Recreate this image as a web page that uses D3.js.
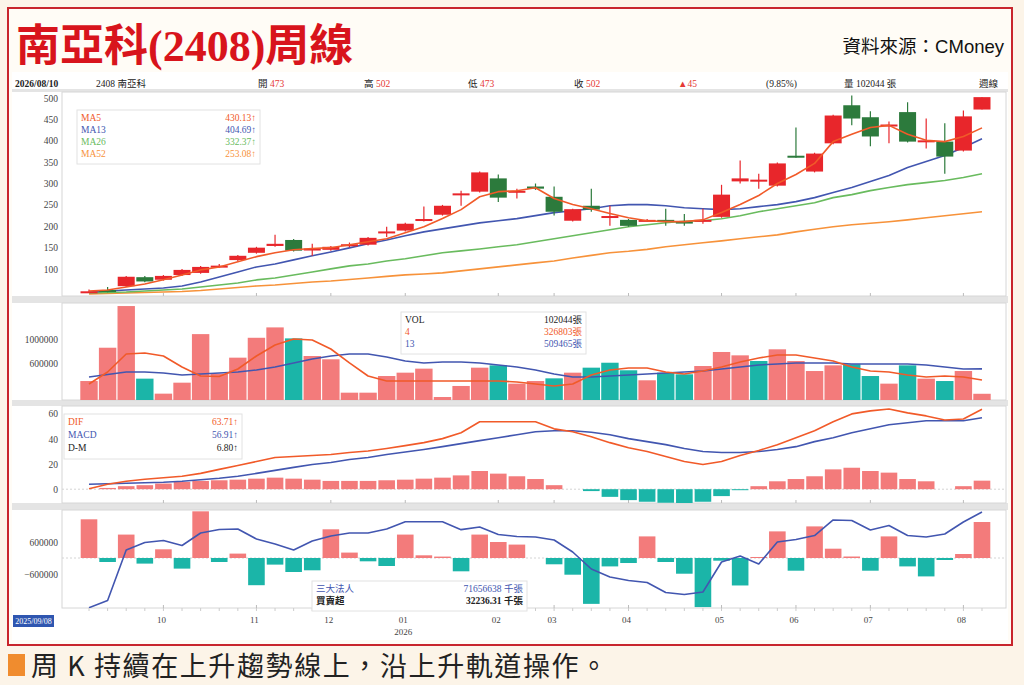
<!DOCTYPE html>
<html>
<head>
<meta charset="utf-8">
<script src="https://cdn.jsdelivr.net/npm/d3@7"></script>
<style>
  body { margin: 0; background: #fcf4e8; }
  svg { display: block; }
</style>
</head>
<body>
<svg id="chart" width="1024" height="685"></svg>
<script>
// 南亞科(2408) 周線 — K 線 / 成交量 / MACD / 三大法人

var weeks = [
  '2025/09/08', '2025/09/15', '2025/09/22', '2025/09/29', '2025/10/06', '2025/10/13', '2025/10/20', '2025/10/27',
  '2025/11/03', '2025/11/10', '2025/11/17', '2025/11/24', '2025/12/01', '2025/12/08', '2025/12/15', '2025/12/22',
  '2025/12/29', '2026/01/05', '2026/01/12', '2026/01/19', '2026/01/26', '2026/02/02', '2026/02/09', '2026/02/16',
  '2026/02/23', '2026/03/02', '2026/03/09', '2026/03/16', '2026/03/23', '2026/03/30', '2026/04/06', '2026/04/13',
  '2026/04/20', '2026/04/27', '2026/05/04', '2026/05/11', '2026/05/18', '2026/05/25', '2026/06/01', '2026/06/08',
  '2026/06/15', '2026/06/22', '2026/06/29', '2026/07/06', '2026/07/13', '2026/07/20', '2026/07/27', '2026/08/03',
  '2026/08/10'
];

var open  = [46, 51, 60, 81, 75, 86, 91, 106, 121, 138, 154, 168, 147, 145, 154, 157, 187, 190, 213, 227, 275, 281, 312, 281, 293,
             269, 213, 248, 222, 215, 213, 215, 211, 213, 222, 305, 305, 295, 365, 328, 394, 483, 455, 434, 467, 398, 398, 377, 473];
var high  = [52, 58, 84, 84, 86, 100, 107, 112, 133, 152, 180, 170, 159, 154, 162, 175, 199, 208, 246, 250, 283, 328, 321, 288, 300,
             293, 241, 288, 248, 217, 217, 241, 229, 241, 297, 354, 323, 349, 431, 372, 461, 506, 469, 445, 490, 452, 441, 471, 502];
var low   = [45, 46, 58, 69, 73, 84, 89, 103, 119, 136, 152, 141, 131, 143, 151, 155, 175, 188, 211, 225, 248, 279, 257, 265, 285,
             225, 211, 234, 201, 199, 211, 201, 201, 206, 220, 300, 288, 293, 360, 326, 392, 436, 387, 394, 396, 382, 323, 375, 473];
var close = [48, 49, 82, 71, 84, 98, 105, 108, 131, 150, 159, 143, 148, 152, 158, 173, 188, 206, 217, 248, 277, 326, 267, 283, 288,
             234, 240, 239, 224, 201, 215, 211, 210, 215, 274, 312, 309, 347, 363, 370, 459, 452, 410, 438, 398, 401, 363, 457, 502];

var ma5  = [48.7, 51, 58, 65, 75, 86, 98, 105, 117, 129, 138, 145, 148, 150, 157, 164, 171, 185, 199, 218, 239, 269, 281, 283, 290,
            265, 251, 241, 230, 220, 213, 211, 211, 215, 232, 251, 272, 300, 321, 347, 398, 415, 431, 436, 415, 401, 398, 410, 430.1];
var ma13 = [46.4, 48.7, 51, 53.4, 55.7, 60.5, 69.9, 81.6, 93.3, 105, 112, 121.5, 131, 140, 149.6, 159, 168, 178, 187, 194, 201, 208, 213, 218, 225,
            232, 236.5, 241, 248, 250.6, 250.6, 248, 243.5, 241, 239, 241, 246, 250.6, 257.6, 267, 279, 290.5, 304.6, 318.6, 337.4, 351.5, 365.6, 384.4, 404.7];
var ma26 = [44, 45.2, 46.4, 48.7, 51, 53.4, 58, 62.8, 67.5, 74.6, 79, 86.3, 93.3, 100.4, 107.4, 112, 119, 124, 131, 138, 142.6, 147, 152, 156.7, 163.7,
            170.8, 177.8, 184.9, 191.9, 199, 203.6, 208.3, 211.9, 213, 217.7, 224.8, 234, 241, 248, 255, 267, 274, 283.4, 290.5, 297.5, 302, 307, 314, 323];
var ma52 = [41.7, 42.9, 44, 45.2, 46.4, 47.6, 49.9, 53.4, 57, 60.5, 62.8, 66.3, 69.9, 72.2, 75.7, 79.2, 82.8, 86.3, 88.6, 91, 95.7, 100.4, 105, 109.8, 114.5,
            119, 126, 132, 138, 141.5, 146, 152, 156.7, 161.4, 166, 170.8, 175.5, 180, 187, 193, 199, 203.6, 207, 210.7, 215, 220, 224.8, 229.5, 234];

var volume = [311000, 857000, 1540000, 350000, 104000, 284000, 1080000, 431000, 694000, 1020000, 1190000, 1010000, 721000, 667000, 120000, 120000,
              393000, 448000, 514000, 49000, 230000, 530000, 568000, 268000, 311000, 355000, 448000, 530000, 611000, 487000, 323000, 448000,
              421000, 557000, 787000, 732000, 639000, 831000, 639000, 475000, 568000, 585000, 393000, 268000, 568000, 350000, 311000, 475000, 102044];
var vol4  = [262000, 459000, 754000, 770000, 721000, 541000, 393000, 384000, 508000, 721000, 902000, 1000000, 984000, 836000, 607000, 393000,
             311000, 311000, 311000, 311000, 311000, 311000, 311000, 295000, 262000, 230000, 262000, 410000, 492000, 525000, 525000, 459000,
             426000, 475000, 541000, 623000, 689000, 738000, 738000, 689000, 639000, 541000, 475000, 459000, 410000, 377000, 393000, 377000, 326803];
var vol13 = [377000, 418000, 459000, 459000, 443000, 410000, 426000, 443000, 459000, 492000, 541000, 607000, 672000, 721000, 754000, 754000,
             705000, 639000, 607000, 623000, 623000, 607000, 574000, 541000, 492000, 426000, 377000, 377000, 393000, 410000, 426000, 443000,
             459000, 475000, 508000, 541000, 574000, 590000, 607000, 607000, 607000, 590000, 590000, 590000, 590000, 574000, 541000, 508000, 509465];

var dif  = [0.3, 3.9, 6.3, 7.9, 9.1, 10.3, 12.6, 15.8, 18.9, 22.1, 25.3, 26, 26.8, 27.6, 29.2, 30.4, 32.4, 34.7, 37.1, 40.3, 45, 53.7, 53.7, 53.7, 53.7,
            48.1, 45.8, 41.8, 37.1, 33.1, 30, 26, 22.1, 19.7, 22.1, 26.8, 30.8, 35.5, 41, 46.6, 53.7, 60, 62.4, 63.9, 60.8, 58.4, 55.2, 56, 63.7];
var macd = [3.9, 4.3, 4.7, 5.1, 5.5, 6.3, 7.5, 8.7, 10.3, 12.6, 15, 17.4, 19.7, 21.3, 23.7, 25.3, 27.6, 29.6, 31.6, 33.9, 36.3, 38.7, 41, 43.4, 45.8,
            46.6, 46.6, 45.4, 43.4, 40.3, 37.9, 35.5, 32.4, 30, 29.2, 29.2, 30, 31.6, 33.9, 37.9, 41, 45, 48.1, 51.3, 52.9, 54.5, 54.5, 54.5, 56.9];
var osc  = [0, 1, 2.4, 3.2, 4.5, 5.8, 6.6, 7.1, 7.6, 8.4, 9.2, 8.4, 7.6, 6.6, 6.6, 6.6, 7.1, 7.6, 8.4, 9.2, 11, 14.5, 12.4, 10.3, 8.1,
            3.2, 0, -1.5, -6.1, -8.7, -10, -10.8, -11.3, -10, -5.5, -0.5, 2.4, 6.3, 8.1, 10.3, 15.8, 17.1, 14.5, 13.2, 8.1, 6.3, 0, 2.4, 6.8];

var instNet = [1451000, -150000, 878000, -210000, 326000, -398000, 1750000, -150000, 165000, -1020000, -248000, -525000, -461000, 1076000, 203000, -124000,
               -300000, 878000, 101000, 53000, -499000, 878000, 600000, 503000, 0, -236000, -626000, -1720000, -315000, -188000, 810000, -150000,
               -589000, -1840000, -101000, -1030000, 38000, 998000, -476000, 1185000, 349000, 56000, -476000, 810000, -315000, -690000, -75000, 150000, 1350000];
var instTrend = [0.3, 7.8, 60.4, 68.2, 70.3, 65.1, 78.1, 81.8, 82.3, 71.9, 66.7, 60.4, 69.8, 75, 78.1, 78.1, 82.3, 89.9, 89.9, 89.9, 81.6, 84.4, 76.6, 74.5, 74,
                 70.8, 58.3, 40.6, 32.3, 28.6, 26.6, 16.1, 14.1, 16.7, 47.9, 54.2, 45.8, 68.8, 71.4, 75.5, 91.7, 91.1, 81.3, 85.9, 75.5, 74, 77.1, 89.6, 100];

var monthWeeks  = ['2025/10/06', '2025/11/10', '2025/12/08', '2026/01/05', '2026/02/09', '2026/03/02', '2026/03/30', '2026/05/04', '2026/06/01', '2026/06/29', '2026/08/03'];
var monthLabels = ['10', '11', '12', '01', '02', '03', '04', '05', '06', '07', '08'];

var priceTicks = [100, 150, 200, 250, 300, 350, 400, 450, 500];
var volTicks   = [600000, 1000000];
var macdTicks  = [0, 20, 40, 60];
var instTicks  = [-600000, 600000];

var maLegend   = [['MA5', '430.13↑'], ['MA13', '404.69↑'], ['MA26', '332.37↑'], ['MA52', '253.08↑']];
var volLegend  = [['VOL', '102044張'], ['4', '326803張'], ['13', '509465張']];
var macdLegend = [['DIF', '63.71↑'], ['MACD', '56.91↑'], ['D-M', '6.80↑']];
var instLegend = [['三大法人', '71656638 千張'], ['買賣超', '32236.31 千張']];

var RED = '#e8262b', GREEN = '#2c7a3c', PINK = '#f37b7b', TEAL = '#1bb5a8';
var C_MA5 = '#f15a29', C_MA13 = '#4256b0', C_MA26 = '#69bb5e', C_MA52 = '#f7923a';
var SERIF = '"Liberation Serif", "Noto Sans CJK TC", serif';
var CJK = '"Noto Sans CJK TC", sans-serif';

var svg = d3.select('#chart');

// 外框 / 標題
svg.append('rect').attr('x', 8).attr('y', 8).attr('width', 1004).attr('height', 637)
  .attr('fill', '#fffcf6').attr('stroke', '#c8252b').attr('stroke-width', 2);
svg.append('text').attr('x', 16).attr('y', 61)
  .attr('font-family', SERIF).attr('font-weight', 'bold').attr('font-size', 44).attr('fill', '#d8141c')
  .text('南亞科(2408)周線');
svg.append('text').attr('x', 1004).attr('y', 53).attr('text-anchor', 'end')
  .attr('font-family', '"Liberation Sans", ' + CJK).attr('font-size', 18.5).attr('fill', '#111')
  .text('資料來源：CMoney');
svg.append('rect').attr('x', 12).attr('y', 72).attr('width', 996).attr('height', 568).attr('fill', '#fff');

// 說明文字
svg.append('rect').attr('x', 8).attr('y', 654).attr('width', 17).attr('height', 22).attr('fill', '#f08c2e');
svg.append('text').attr('x', 31).attr('y', 676)
  .attr('font-family', CJK).attr('font-size', 27).attr('letter-spacing', 1.6).attr('fill', '#222')
  .text('周 K 持續在上升趨勢線上，沿上升軌道操作。');

// 資訊列 — 由最後一根 K 棒取值
var last = weeks.length - 1;
var chg = close[last] - close[last - 1];
var pct = chg / close[last - 1] * 100;
var info = svg.append('g').attr('font-family', SERIF).attr('font-size', 9.5);
function infoText(xp, label, value, anchor) {
  var t = info.append('text').attr('x', xp).attr('y', 87).attr('text-anchor', anchor || 'start');
  if (label) t.append('tspan').attr('fill', '#222').text(label);
  if (value) t.append('tspan').attr('fill', '#e53935').text(value);
  return t;
}
infoText(15, weeks[last], null).attr('font-weight', 'bold');
infoText(96, '2408 南亞科', null);
infoText(258, '開 ', String(open[last]));
infoText(364, '高 ', String(high[last]));
infoText(468, '低 ', String(low[last]));
infoText(574, '收 ', String(close[last]));
infoText(678, null, '▲' + chg);
infoText(766, '(' + pct.toFixed(2) + '%)', null);
infoText(844, '量 ' + volume[last] + ' 張', null);
infoText(998, '週線', null, 'end');

// 版面
var X0 = 62, X1 = 1006;
var panels = {
  price: [92, 296],
  vol: [303, 400],
  macd: [406, 503],
  inst: [510, 608]
};

svg.append('rect').attr('x', 12).attr('y', 89).attr('width', 996).attr('height', 3).attr('fill', '#e4e4e4');
[[296, 303], [400, 406], [503, 510]].forEach(function (b) {
  svg.append('rect').attr('x', 12).attr('y', b[0]).attr('width', 996).attr('height', b[1] - b[0]).attr('fill', '#e4e4e4');
});

var defs = svg.append('defs');
Object.keys(panels).forEach(function (k) {
  var p = panels[k];
  svg.append('rect').attr('x', X0).attr('y', p[0]).attr('width', X1 - X0).attr('height', p[1] - p[0])
    .attr('fill', '#fff').attr('stroke', '#d6d6d6');
  defs.append('clipPath').attr('id', 'clip-' + k).append('rect')
    .attr('x', X0).attr('y', p[0]).attr('width', X1 - X0).attr('height', p[1] - p[0]);
});

var x = d3.scaleBand().domain(weeks).range([79.7, 991.3]).padding(0);
var bw = x.bandwidth();
function cx(i) { return x(weeks[i]) + bw / 2; }
var idx = d3.range(weeks.length);

var yPrice = d3.scaleLinear().domain([37, 514]).range([296, 92]);
var yVol = d3.scaleLinear().domain([0, 1590000]).range([400, 303]);
var yMacd = d3.scaleLinear().domain([-11, 66.3]).range([503, 406]);
var yInst = d3.scaleLinear().domain([-1875000, 1800000]).range([608, 510]);
var yTrend = d3.scaleLinear().domain([0, 100]).range([608, 512]);

function yAxis(scale, ticks) {
  var g = svg.append('g').attr('transform', 'translate(58,0)')
    .call(d3.axisLeft(scale).tickValues(ticks).tickSize(0).tickPadding(0).tickFormat(d3.format('d')));
  g.select('.domain').remove();
  g.selectAll('text').attr('font-family', SERIF).attr('font-size', 9.5).attr('fill', '#444');
}
yAxis(yPrice, priceTicks);
yAxis(yVol, volTicks);
yAxis(yMacd, macdTicks);
yAxis(yInst, instTicks);

// 月份刻度
Object.keys(panels).forEach(function (k) {
  var p = panels[k];
  svg.append('g').selectAll('line').data(monthWeeks).join('line')
    .attr('x1', function (d) { return x(d) + bw / 2; }).attr('x2', function (d) { return x(d) + bw / 2; })
    .attr('y1', p[1] - 3).attr('y2', p[1]).attr('stroke', '#bbb');
});
svg.append('g').selectAll('line').data(idx).join('line')
  .attr('x1', function (i) { return cx(i); }).attr('x2', function (i) { return cx(i); })
  .attr('y1', 608).attr('y2', 611).attr('stroke', '#ccc');
svg.append('g').selectAll('text').data(monthWeeks).join('text')
  .attr('x', function (d) { return x(d) + bw / 2 - 2; }).attr('y', 623).attr('text-anchor', 'middle')
  .attr('font-family', SERIF).attr('font-size', 9).attr('fill', '#444')
  .text(function (d, i) { return monthLabels[i]; });
svg.append('text').attr('x', x('2026/01/05') + bw / 2 - 2).attr('y', 635).attr('text-anchor', 'middle')
  .attr('font-family', SERIF).attr('font-size', 9).attr('fill', '#444').text('2026');
svg.append('rect').attr('x', 13).attr('y', 615).attr('width', 41).attr('height', 12).attr('fill', '#2f56b0');
svg.append('text').attr('x', 33.5).attr('y', 624).attr('text-anchor', 'middle')
  .attr('font-family', SERIF).attr('font-size', 8).attr('fill', '#fff').text(weeks[0]);

// 零軸
[yMacd(0), yInst(0)].forEach(function (v) {
  svg.append('line').attr('x1', X0).attr('x2', X1).attr('y1', v).attr('y2', v)
    .attr('stroke', '#d4d4d4').attr('stroke-dasharray', '2,2');
});

function linePath(scale, values) {
  return d3.line().x(function (d, i) { return cx(i); }).y(function (d) { return scale(d); })(values);
}
function drawLine(layer, scale, values, color) {
  layer.append('path').attr('d', linePath(scale, values))
    .attr('fill', 'none').attr('stroke', color).attr('stroke-width', 1.6).attr('stroke-linejoin', 'round');
}

// K 線
var gPrice = svg.append('g').attr('clip-path', 'url(#clip-price)');
drawLine(gPrice, yPrice, ma52, C_MA52);
drawLine(gPrice, yPrice, ma26, C_MA26);
drawLine(gPrice, yPrice, ma13, C_MA13);
function candleColor(i) { return close[i] >= open[i] ? RED : GREEN; }
gPrice.append('g').selectAll('line').data(idx).join('line')
  .attr('x1', function (i) { return cx(i); }).attr('x2', function (i) { return cx(i); })
  .attr('y1', function (i) { return yPrice(high[i]); }).attr('y2', function (i) { return yPrice(low[i]); })
  .attr('stroke', candleColor).attr('stroke-width', 1.2);
gPrice.append('g').selectAll('rect').data(idx).join('rect')
  .attr('x', function (i) { return cx(i) - 8.5; }).attr('width', 17)
  .attr('y', function (i) { return yPrice(Math.max(open[i], close[i])); })
  .attr('height', function (i) { return Math.max(2, Math.abs(yPrice(open[i]) - yPrice(close[i]))); })
  .attr('fill', candleColor);
drawLine(gPrice, yPrice, ma5, C_MA5);

// 成交量
var gVol = svg.append('g').attr('clip-path', 'url(#clip-vol)');
function volColor(i) { return (i === 0 || close[i] >= close[i - 1]) ? PINK : TEAL; }
gVol.append('g').selectAll('rect').data(idx).join('rect')
  .attr('x', function (i) { return x(weeks[i]) + 0.6; }).attr('width', bw - 1.2)
  .attr('y', function (i) { return yVol(volume[i]); })
  .attr('height', function (i) { return yVol(0) - yVol(volume[i]); })
  .attr('fill', volColor);
drawLine(gVol, yVol, vol13, C_MA13);
drawLine(gVol, yVol, vol4, C_MA5);

// MACD
var gMacd = svg.append('g').attr('clip-path', 'url(#clip-macd)');
gMacd.append('g').selectAll('rect').data(idx.filter(function (i) { return osc[i] !== 0; })).join('rect')
  .attr('x', function (i) { return x(weeks[i]) + 1; }).attr('width', bw - 2)
  .attr('y', function (i) { return yMacd(Math.max(0, osc[i])); })
  .attr('height', function (i) { return Math.max(1, Math.abs(yMacd(osc[i]) - yMacd(0))); })
  .attr('fill', function (i) { return osc[i] > 0 ? PINK : TEAL; });
drawLine(gMacd, yMacd, macd, C_MA13);
drawLine(gMacd, yMacd, dif, C_MA5);

// 三大法人
var gInst = svg.append('g').attr('clip-path', 'url(#clip-inst)');
gInst.append('g').selectAll('rect').data(idx.filter(function (i) { return instNet[i] !== 0; })).join('rect')
  .attr('x', function (i) { return x(weeks[i]) + 1; }).attr('width', bw - 2)
  .attr('y', function (i) { return yInst(Math.max(0, instNet[i])); })
  .attr('height', function (i) { return Math.max(1, Math.abs(yInst(instNet[i]) - yInst(0))); })
  .attr('fill', function (i) { return instNet[i] > 0 ? PINK : TEAL; });
drawLine(gInst, yTrend, instTrend, C_MA13);

// 圖例
function legend(bx, by, w, rowH, rows, colors, weights) {
  var g = svg.append('g').attr('font-family', SERIF).attr('font-size', 9.5);
  g.append('rect').attr('x', bx).attr('y', by).attr('width', w).attr('height', rows.length * rowH + 6)
    .attr('fill', '#fff').attr('stroke', '#e2e2e2');
  rows.forEach(function (r, i) {
    var yy = by + 11 + i * rowH;
    g.append('text').attr('x', bx + 4).attr('y', yy).attr('fill', colors[i])
      .attr('font-weight', weights ? weights[i] : 'normal').text(r[0]);
    g.append('text').attr('x', bx + w - 4).attr('y', yy).attr('text-anchor', 'end').attr('fill', colors[i])
      .attr('font-weight', weights ? weights[i] : 'normal').text(r[1]);
  });
}
legend(77, 110, 183, 12, maLegend, [C_MA5, C_MA13, C_MA26, C_MA52]);
legend(401, 312, 185, 12, volLegend, ['#222', C_MA5, C_MA13]);
legend(64, 414, 178, 13, macdLegend, [C_MA5, C_MA13, '#222']);
legend(312, 581, 215, 12, instLegend, [C_MA13, '#222'], ['normal', 'bold']);
</script>
</body>
</html>
